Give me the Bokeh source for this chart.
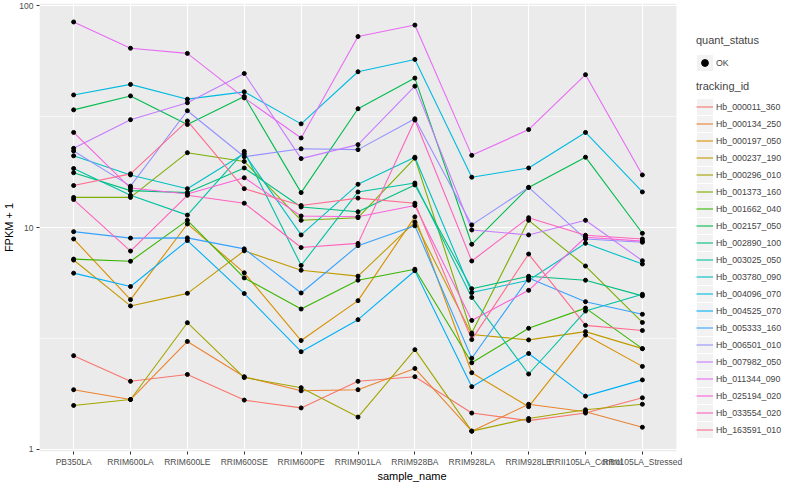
from bokeh.plotting import figure
from bokeh.models import (Range1d, FixedTicker, Legend, LegendItem, BoxAnnotation,
                          PrintfTickFormatter, ColumnDataSource)
from bokeh.embed import file_html
from bokeh.resources import INLINE

samples = ["PB350LA", "RRIM600LA", "RRIM600LE", "RRIM600SE", "RRIM600PE", "RRIM901LA",
           "RRIM928BA", "RRIM928LA", "RRIM928LE", "RRII105LA_Control", "RRII105LA_Stressed"]

tracking_ids = ["Hb_000011_360", "Hb_000134_250", "Hb_000197_050", "Hb_000237_190",
                "Hb_000296_010", "Hb_001373_160", "Hb_001662_040", "Hb_002157_050",
                "Hb_002890_100", "Hb_003025_050", "Hb_003780_090", "Hb_004096_070",
                "Hb_004525_070", "Hb_005333_160", "Hb_006501_010", "Hb_007982_050",
                "Hb_011344_090", "Hb_025194_020", "Hb_033554_020", "Hb_163591_010"]

colors = ["#F8766D", "#EA8331", "#D89000", "#C09B00", "#A3A500", "#7CAE00", "#39B600",
          "#00BB4E", "#00BF7D", "#00C1A3", "#00BFC4", "#00BAE0", "#00B0F6", "#35A2FF",
          "#9590FF", "#C77CFF", "#E76BF3", "#FA62DB", "#FF62BC", "#FF6C91"]

quant_status = ["OK"]
y_ticks = [1, 10, 100]

# FPKM + 1 per sample
hb_000011_360 = [2.65, 2.03, 2.18, 1.67, 1.54, 2.03, 2.13, 1.46, 1.35, 1.46, 1.71]
hb_000134_250 = [1.86, 1.68, 3.07, 2.13, 1.84, 1.86, 2.32, 1.21, 1.60, 1.48, 1.26]
hb_000197_050 = [8.9, 4.74, 10.4, 6.26, 3.10, 4.69, 11.2, 2.22, 1.56, 3.28, 2.37]
hb_000237_190 = [7.15, 4.44, 5.06, 7.87, 6.43, 6.05, 10.6, 3.30, 3.12, 3.40, 2.85]
hb_000296_010 = [1.58, 1.68, 3.73, 2.11, 1.90, 1.40, 2.82, 1.21, 1.38, 1.51, 1.60]
hb_001373_160 = [13.7, 13.7, 21.8, 19.9, 10.8, 11.1, 20.6, 3.35, 10.8, 6.72, 3.74]
hb_001662_040 = [7.22, 7.06, 10.8, 5.94, 4.30, 5.80, 6.5, 2.46, 3.52, 4.34, 2.85]
hb_002157_050 = [34.0, 39.3, 29.2, 39.1, 14.4, 34.4, 47.3, 8.42, 15.2, 20.8, 9.44]
hb_002890_100 = [17.7, 14.7, 14.4, 18.6, 12.4, 11.8, 15.6, 5.31, 6.04, 5.80, 4.93]
hb_003025_050 = [18.5, 14.0, 11.4, 22.1, 6.76, 14.5, 15.9, 4.85, 2.19, 4.21, 5.01]
hb_003780_090 = [21.1, 17.3, 15.0, 21.6, 9.28, 15.7, 20.8, 5.10, 5.80, 8.51, 6.86]
hb_004096_070 = [39.7, 44.3, 38.0, 41.0, 29.4, 50.5, 57.4, 16.9, 18.6, 26.9, 14.5]
hb_004525_070 = [6.24, 5.43, 8.75, 5.05, 2.76, 3.85, 6.4, 1.92, 2.71, 1.74, 2.06]
hb_005333_160 = [9.6, 8.98, 9.0, 8.03, 5.08, 8.3, 10.2, 2.58, 5.93, 4.64, 4.07]
hb_006501_010 = [22.2, 15.4, 33.7, 20.9, 22.7, 22.5, 31.0, 10.3, 15.2, 8.9, 8.6]
hb_007982_050 = [22.8, 30.7, 36.6, 49.6, 20.5, 23.7, 43.5, 9.77, 9.28, 10.8, 7.1]
hb_011344_090 = [84.7, 64.5, 61.1, 38.5, 25.4, 72.8, 82.0, 21.2, 27.7, 49.0, 17.3]
hb_025194_020 = [26.9, 15.1, 14.2, 16.8, 11.3, 11.2, 12.6, 3.82, 5.22, 9.06, 8.7]
hb_033554_020 = [13.4, 7.85, 14.0, 12.9, 8.14, 8.5, 30.6, 7.08, 11.1, 9.25, 8.9]
hb_163591_010 = [15.5, 17.5, 30.3, 15.0, 12.6, 13.6, 12.9, 3.13, 7.61, 3.63, 3.44]

series = [hb_000011_360, hb_000134_250, hb_000197_050, hb_000237_190, hb_000296_010,
          hb_001373_160, hb_001662_040, hb_002157_050, hb_002890_100, hb_003025_050,
          hb_003780_090, hb_004096_070, hb_004525_070, hb_005333_160, hb_006501_010,
          hb_007982_050, hb_011344_090, hb_025194_020, hb_033554_020, hb_163591_010]

FONT = "Liberation Sans"
W, H = 784, 484
BL, BB, BT = 32, 28, 3                # left / bottom / top borders (px)
FW = W - BL                           # frame width
PANEL_PX = 643                        # width of grey panel
n = len(samples)
unit = PANEL_PX / (n + 0.2)           # px per category
x0 = -0.6
x1 = x0 + FW / unit

xs = list(range(n))

p = figure(width=W, height=H,
           x_range=Range1d(x0, x1), y_range=Range1d(0.9794, 102.6), y_axis_type="log",
           output_backend="svg", toolbar_location=None,
           min_border_left=BL, min_border_right=0, min_border_top=BT, min_border_bottom=BB)

p.background_fill_color = "white"
p.border_fill_color = "white"
p.outline_line_color = None

# grey panel only behind the data area
p.add_layout(BoxAnnotation(left=x0, right=n - 1 + 0.6, fill_color="#EBEBEB", fill_alpha=1,
                           line_color=None, level="image"))

p.xgrid.grid_line_color = "white"
p.xgrid.grid_line_width = 1.1
p.ygrid.grid_line_color = "white"
p.ygrid.grid_line_width = 1.1
p.ygrid.minor_grid_line_color = "white"
p.ygrid.minor_grid_line_width = 0.55

p.xaxis.ticker = FixedTicker(ticks=xs)
p.xaxis.major_label_overrides = {i: s for i, s in zip(xs, samples)}
p.yaxis.ticker = FixedTicker(ticks=y_ticks, minor_ticks=[3.1623, 31.623])
p.yaxis.formatter = PrintfTickFormatter(format="%d")

for ax in (p.xaxis, p.yaxis):
    ax.axis_line_color = None
    ax.major_tick_line_color = "#333333"
    ax.major_tick_out = 3
    ax.major_tick_in = 0
    ax.minor_tick_line_color = None
    ax.major_label_text_font = FONT
    ax.major_label_text_font_size = "8.5px"
    ax.major_label_text_color = "#4D4D4D"
    ax.major_label_standoff = 2
    ax.axis_label_text_font = FONT
    ax.axis_label_text_font_size = "11px"
    ax.axis_label_text_font_style = "normal"
    ax.axis_label_text_color = "black"
p.xaxis.major_label_standoff = 2
p.xaxis.axis_label_standoff = 0
p.yaxis.axis_label_standoff = 1

p.xaxis.axis_label = "sample_name"
p.yaxis.axis_label = "FPKM + 1"

line_items = []
for tid, col, vals in zip(tracking_ids, colors, series):
    src = ColumnDataSource(dict(x=xs, y=vals))
    r = p.line("x", "y", source=src, line_color=col, line_width=1.1)
    line_items.append(LegendItem(label=tid, renderers=[r]))

point_r = None
for vals in series:
    src = ColumnDataSource(dict(x=xs, y=vals))
    pr = p.scatter("x", "y", source=src, size=4, color="black")
    if point_r is None:
        point_r = pr

# legend geometry (screen px, relative to the frame's bottom-left)
LX = 657
KEY = 17
L1_Y = 380
L2_Y = 13


def key_boxes(bottom, count):
    for k in range(count):
        b = bottom + (count - 1 - k) * KEY
        p.add_layout(BoxAnnotation(left=LX + 0.5, right=LX + KEY - 0.5,
                                   bottom=b + 0.6, top=b + KEY - 0.6,
                                   left_units="screen", right_units="screen",
                                   bottom_units="screen", top_units="screen",
                                   fill_color="#F2F2F2", fill_alpha=1, line_color=None))


key_boxes(L1_Y, 1)
key_boxes(L2_Y, len(tracking_ids))


def style_legend(lg, standoff):
    lg.padding = 0
    lg.margin = 0
    lg.spacing = 0
    lg.border_line_color = None
    lg.background_fill_alpha = 0
    lg.glyph_width = KEY
    lg.glyph_height = KEY
    lg.label_height = KEY
    lg.label_standoff = 3
    lg.label_text_font = FONT
    lg.label_text_font_size = "8.8px"
    lg.label_text_baseline = "middle"
    lg.title_text_font = FONT
    lg.title_text_font_size = "11px"
    lg.title_text_font_style = "normal"
    lg.title_standoff = standoff


leg1 = Legend(items=[LegendItem(label=quant_status[0], renderers=[point_r])],
              title="quant_status", location=(LX, L1_Y))
style_legend(leg1, 8)
leg2 = Legend(items=line_items, title="tracking_id", location=(LX, L2_Y))
style_legend(leg2, 6)
p.add_layout(leg1, "center")
p.add_layout(leg2, "center")

open("out.html", "w").write(file_html(p, INLINE))
